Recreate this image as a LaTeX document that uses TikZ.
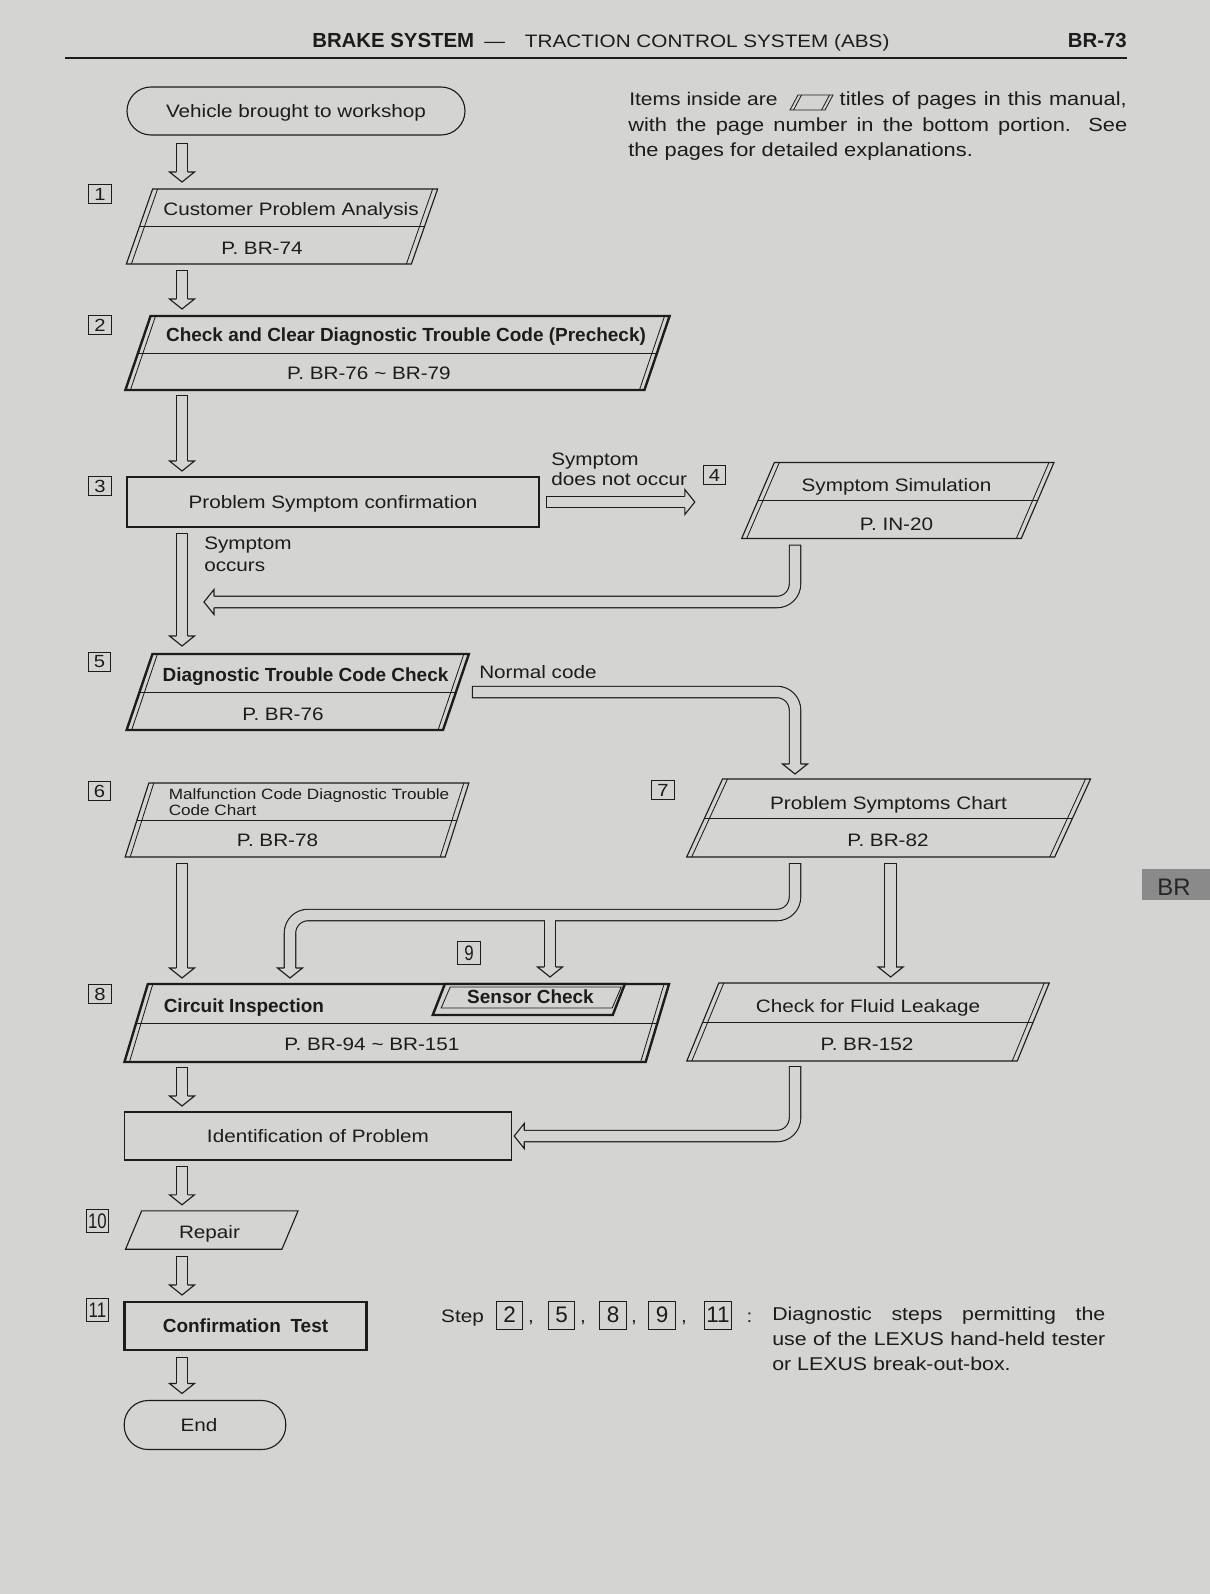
\documentclass[tikz,border=0pt]{standalone}
\usepackage{fontspec}
\setmainfont{Liberation Sans}[FakeStretch=1.15]
\newfontfamily\heavy{Liberation Sans}
\newfontfamily\narrow{Liberation Sans}[FakeStretch=0.8]
\usetikzlibrary{positioning,calc}
\definecolor{paper}{RGB}{212,212,210}
\definecolor{ink}{RGB}{28,28,28}
\definecolor{tabgray}{RGB}{138,138,138}
\newcommand{\fatarrow}[2]{%
  \draw[fatout] #1 coordinate (fathead);
  \draw[fatin] #1;
  \pic[rotate=#2] at (fathead) {chevron};}
\tikzset{
  txt/.style={font=\fontsize{12.8}{15}\selectfont, text=ink, inner sep=0pt,
    text height=9.2pt, text depth=0pt},
  btxt/.style={txt, font=\heavy\bfseries\fontsize{13.5}{15}\selectfont},
  block/.style={font=\fontsize{13.5}{17.8}\selectfont, text=ink, inner sep=0pt,
    align=justify},
  lbl/.style={font=\fontsize{12.8}{14.2}\selectfont, text=ink, inner sep=0pt,
    align=left},
  sheet/.style={draw=ink, line width=0.8pt, inner sep=0pt, outer sep=0pt, xslant=#1},
  sheet/.default=0.33,
  boldsheet/.style={sheet=#1, line width=1.7pt},
  boldsheet/.default=0.33,
  rectbox/.style={txt, draw=ink, line width=0.8pt, outer sep=0pt},
  term/.style={rectbox, rounded corners=6mm},
  stepno/.style={draw=ink, line width=0.7pt, inner sep=0pt, minimum width=5.6mm,
    minimum height=4.9mm, font=\fontsize{12.5}{13}\selectfont, text=ink},
  tallno/.style={stepno, minimum height=5.75mm, font=\narrow\fontsize{15}{16}\selectfont},
  rim/.style={draw=ink, line width=0.6pt},
  fatout/.style={draw=ink, line width=8.9pt, rounded corners=4.5mm, shorten >=2.5mm},
  fatin/.style={draw=paper, line width=7.3pt, rounded corners=4.5mm, shorten >=2.5mm,
    shorten <=0.8pt},
  pics/chevron/.style={code={
    \fill[paper] (0,0) -- (-10,12.5) -- (-10,-12.5) -- cycle;
    \draw[ink, line width=0.8pt, line join=miter]
      (-10,5.6) -- (-10,12.5) -- (0,0) -- (-10,-12.5) -- (-10,-5.6);
  }},
}
\begin{document}
\begin{tikzpicture}[x=0.25mm, y=-0.25mm]
\fill[paper] (0,0) rectangle (1210,1594);
\useasboundingbox (0,0) rectangle (1210,1594);

% page heading
\node[txt, anchor=west, text height=10.4pt] (hd) at (312,40)
  {{\heavy\bfseries\fontsize{14.5}{16}\selectfont BRAKE SYSTEM}\hspace{2.5mm}—\hspace{5mm}TRACTION CONTROL SYSTEM (ABS)};
\node[txt, anchor=east, font=\heavy\bfseries\fontsize{14.5}{16}\selectfont,
  text height=10.4pt] (br) at (1127,40) {BR-73};
\draw[ink, line width=2pt] (65,58) -- (1127,58);

% side tab
\fill[tabgray] (1142,869) rectangle (1210,900);
\node[txt, font=\heavy\fontsize{17}{18}\selectfont, text=black!85,
  text height=12.2pt] (tab) at (1174,887) {BR};

% note
\node[txt, anchor=west, font=\fontsize{13}{15}\selectfont] (note-a) at (629,99)
  {Items inside are};
\node[sheet=0.53, line width=0.6pt, minimum width=8.75mm, minimum height=3.75mm]
  (icon) at (811.5,102.5) {};
\node[txt, anchor=east, font=\fontsize{13.5}{15}\selectfont] (note-b) at (1127,99)
  {\makebox[71.75mm][s]{titles of pages in this manual,}};
\node[block, anchor=north west, text width=124.75mm] (note-c) at (628,117)
  {with the page number in the bottom portion. See\linebreak the pages for detailed explanations.};

% start
\node[term, minimum width=84.5mm, minimum height=12mm] (start) at (296,111)
  {Vehicle brought to workshop};

% 1
\node[stepno] (n1) at (100,194) {1};
\node[sheet=0.35, minimum width=71.25mm, minimum height=18.75mm] (cpa) at (282,226.5) {};
\node[txt] (cpa-t) at (291,209) {Customer Problem Analysis};
\node[txt] (cpa-p) at (262,248) {P. BR-74};

% 2
\node[stepno] (n2) at (100,325) {2};
\node[boldsheet=0.34, minimum width=129.75mm, minimum height=18.5mm] (ccd) at (397.5,353) {};
\node[btxt] (ccd-t) at (406,335) {Check and Clear Diagnostic Trouble Code (Precheck)};
\node[txt] (ccd-p) at (369,373) {P. BR-76 \textasciitilde{} BR-79};

% 3
\node[stepno] (n3) at (100,486) {3};
\node[rectbox, minimum width=103mm, minimum height=12.5mm] (conf) at (333,502)
  {Problem Symptom confirmation};

% 4
\node[lbl, anchor=north west] (no-occ) at (551,453) {Symptom\\does not occur};
\node[stepno] (n4) at (714.5,475) {4};
\node[sheet=0.43, minimum width=69.9mm, minimum height=19mm] (sim) at (897.8,500.5) {};
\node[txt] (sim-t) at (896.5,485) {Symptom Simulation};
\node[txt] (sim-p) at (896.5,524) {P. IN-20};
\node[lbl, anchor=north west, font=\fontsize{12.8}{15.6}\selectfont] (occ) at (204,537)
  {Symptom\\occurs};

% 5
\node[stepno] (n5) at (99.5,662) {5};
\node[boldsheet=0.34, minimum width=79.1mm, minimum height=19mm] (dtc) at (297.75,692) {};
\node[btxt] (dtc-t) at (305.5,675) {Diagnostic Trouble Code Check};
\node[txt] (dtc-p) at (283,714) {P. BR-76};
\node[txt, anchor=west] (normal) at (479,672) {Normal code};

% 6
\node[stepno] (n6) at (99.5,791) {6};
\node[sheet=0.32, minimum width=80mm, minimum height=18.5mm] (mal) at (297,820) {};
\node[lbl, anchor=north west, font=\fontsize{10.6}{11.4}\selectfont] (mal-t) at (168.5,788.5)
  {Malfunction Code Diagnostic Trouble\\Code Chart};
\node[txt] (mal-p) at (277.5,840) {P. BR-78};

% 7
\node[stepno] (n7) at (663,790) {7};
\node[sheet=0.46, minimum width=92mm, minimum height=19.5mm] (psc) at (888.6,818) {};
\node[txt] (psc-t) at (888.5,803) {Problem Symptoms Chart};
\node[txt] (psc-p) at (888,840) {P. BR-82};

% 8 and 9
\node[stepno] (n8) at (100,994) {8};
\node[boldsheet=0.30, minimum width=130.3mm, minimum height=19.5mm] (cir) at (396.75,1023) {};
\node[btxt, anchor=west] (cir-t) at (163.5,1006) {Circuit Inspection};
\node[txt] (cir-p) at (372,1044) {P. BR-94 \textasciitilde{} BR-151};
\node[tallno] (n9) at (469,953) {9};
\node[boldsheet=0.39, fill=paper, minimum width=45mm, minimum height=7.75mm] (sen) at (528.8,999.5) {};
\node[sheet=0.43, line width=0.6pt, minimum width=42.75mm, minimum height=5.25mm] (sen-in) at (531.2,997.5) {};
\node[btxt] (sen-t) at (530.5,997) {Sensor Check};

% fluid leakage
\node[sheet=0.41, minimum width=82.6mm, minimum height=19.5mm] (flk) at (868,1022) {};
\node[txt] (flk-t) at (868,1006) {Check for Fluid Leakage};
\node[txt] (flk-p) at (867,1044) {P. BR-152};

% identification
\node[rectbox, minimum width=96.6mm, minimum height=12mm] (iden) at (318,1136)
  {Identification of Problem};

% 10 and 11
\node[tallno] (n10) at (97.5,1221) {10};
\node[sheet=0.42, minimum width=39.1mm, minimum height=9.6mm] (rep) at (211.8,1230) {};
\node[txt] (rep-t) at (209.5,1232) {Repair};
\node[tallno] (n11) at (97.5,1310) {11};
\node[rectbox, btxt, line width=1.8pt, minimum width=60.5mm, minimum height=12mm]
  (ctest) at (245.5,1326) {Confirmation\hspace{2.4mm}Test};
\node[term, minimum width=40.4mm, minimum height=12.25mm] (finish) at (205,1425)
  {End\kern3mm};

% legend
\node[txt] (lg-step) at (462.5,1316) {Step};
\foreach \k/\x in {2/509.5,5/561.5,8/613,9/662,11/718}
  \node[stepno, minimum width=6.7mm, minimum height=7mm,
    font=\heavy\fontsize{16}{17}\selectfont] (lg\k) at (\x,1315) {\k};
\foreach \x [count=\i] in {531,583,634,684}
  \node[txt] (cm\i) at (\x,1316) {,};
\node[txt] (colon) at (749.5,1316) {:};
\node[block, anchor=north west, text width=83.25mm, font=\fontsize{13.2}{17.8}\selectfont]
  (lg-txt) at (772,1306.5)
  {Diagnostic steps permitting the\linebreak use of the LEXUS hand-held tester\linebreak or LEXUS break-out-box.};

% dividers and double side rules
\foreach \b in {cpa,ccd,sim,dtc,mal,psc,cir,flk}
  \draw[rim] (\b.west) -- (\b.east);
\foreach \b/\d in {cpa/5,ccd/5,sim/5,dtc/5,mal/5,psc/5,cir/5,flk/5,icon/3.5}{
  \draw[rim] ($(\b.north west)+(\d,0)$) -- ($(\b.south west)+(\d,0)$);
  \draw[rim] ($(\b.north east)+(-\d,0)$) -- ($(\b.south east)+(-\d,0)$);
}

% hollow arrows
\coordinate (spine) at (182,0);
\coordinate (lane) at (795,0);
\coordinate (back) at (204,602);
\coordinate (bus) at (0,915);
\coordinate (cileg) at (290,0);
\coordinate (seleg) at (550,0);
\fatarrow{($(spine |- start.south)+(0,8)$) -- ($(spine |- cpa.north)+(0,-7)$)}{-90}
\fatarrow{($(spine |- cpa.south)+(0,6)$) -- ($(spine |- ccd.north)+(0,-7)$)}{-90}
\fatarrow{($(spine |- ccd.south)+(0,5)$) -- ($(spine |- conf.north)+(0,-6)$)}{-90}
\fatarrow{($(spine |- conf.south)+(0,6)$) -- ($(spine |- dtc.north)+(0,-8)$)}{-90}
\fatarrow{($(conf.east)+(7,0)$) -- ($(n4.west |- conf.east)+(-8,0)$)}{0}
\fatarrow{($(lane |- sim.south)+(0,6)$) |- (back)}{180}
\fatarrow{($(dtc.east)+(16,0)$) -| ($(lane |- psc.north)+(0,-5)$)}{-90}
\fatarrow{($(spine |- mal.south)+(0,6)$) -- ($(spine |- cir.north)+(0,-6)$)}{-90}
\fatarrow{($(psc.center |- psc.south)+(2,6)$) -- ($(psc.center |- flk.north)+(2,-6)$)}{-90}
% split toward circuit inspection and sensor check
\draw[fatout] ($(lane |- psc.south)+(0,6)$) |- (cileg |- bus)
  -- ($(cileg |- cir.north)+(0,-6)$) coordinate (ciHead);
\draw[fatout] (seleg |- bus) -- ($(seleg |- sen.north)+(0,-7)$) coordinate (seHead);
\draw[fatin] ($(lane |- psc.south)+(0,6)$) |- (cileg |- bus)
  -- ($(cileg |- cir.north)+(0,-6)$);
\draw[fatin, shorten <=0pt] (seleg |- bus) -- ($(seleg |- sen.north)+(0,-7)$);
\pic[rotate=-90] at (ciHead) {chevron};
\pic[rotate=-90] at (seHead) {chevron};
\fatarrow{($(spine |- cir.south)+(0,5)$) -- ($(spine |- iden.north)+(0,-6)$)}{-90}
\fatarrow{($(lane |- flk.south)+(0,5)$) |- ($(iden.east)+(3,0)$)}{180}
\fatarrow{($(spine |- iden.south)+(0,6)$) -- ($(spine |- rep.north)+(0,-6)$)}{-90}
\fatarrow{($(spine |- rep.south)+(0,7)$) -- ($(spine |- ctest.north)+(0,-7)$)}{-90}
\fatarrow{($(spine |- ctest.south)+(0,7)$) -- ($(spine |- finish.north)+(0,-7)$)}{-90}
\end{tikzpicture}
\end{document}
